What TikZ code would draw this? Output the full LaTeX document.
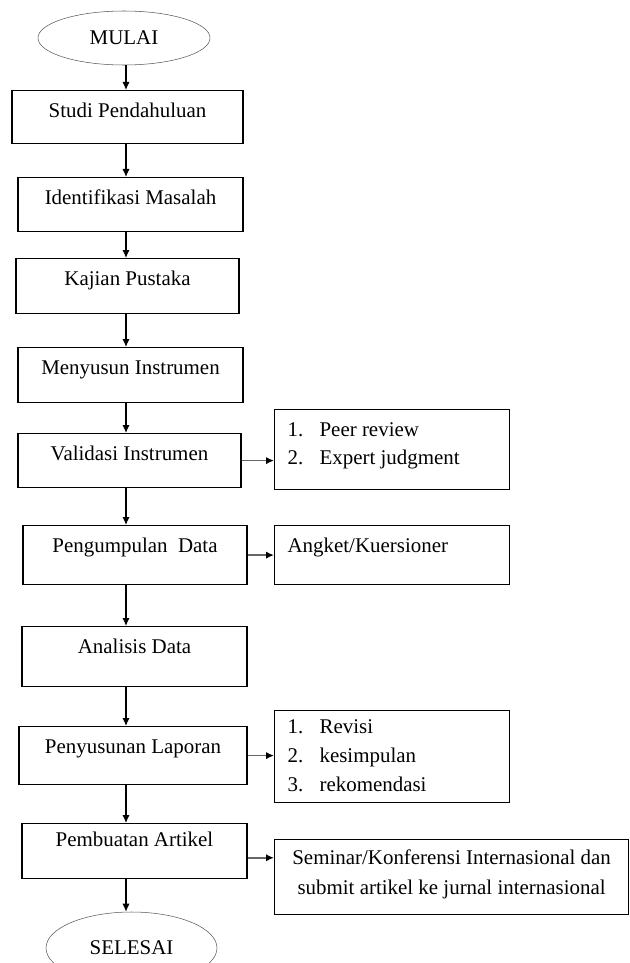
\documentclass[tikz,border=0pt]{standalone}
\usepackage{fontspec}
\setmainfont{Liberation Serif}
\usetikzlibrary{shapes, arrows.meta}

\tikzset{
  proc/.style={draw, line width=0.9pt, inner sep=0pt, text height=20pt, anchor=north},
  note/.style={draw, line width=0.9pt, inner xsep=9.75pt, inner ysep=0pt, anchor=north west},
  term/.style={draw=black!65, ellipse, thin, inner sep=0pt},
}

\begin{document}
\begin{tikzpicture}[x=0.75pt, y=-0.75pt, font=\fontsize{15.7}{21}\selectfont]
\useasboundingbox (0,0) rectangle (629,963);
\coordinate (axis) at (126,0);
\node[term, minimum width=129pt, minimum height=40.5pt] (mulai) at (124,38) {MULAI};
\node[proc, minimum width=173.25pt, text depth=19.75pt] (studi) at (127.5,90) {Studi Pendahuluan};
\node[proc, minimum width=168.75pt, text depth=20.5pt] (ident) at (130.5,177) {Identifikasi Masalah};
\node[proc, minimum width=167.25pt, text depth=21.25pt] (kajian) at (127.5,258) {Kajian Pustaka};
\node[proc, minimum width=168.75pt, text depth=21.25pt] (susun) at (130.5,347) {Menyusun Instrumen};
\node[proc, minimum width=167.25pt, text depth=20.5pt] (valid) at (129.5,433) {Validasi Instrumen};
\node[proc, minimum width=168pt, text depth=24.25pt] (kumpul) at (135,525) {Pengumpulan~~Data};
\node[proc, minimum width=168.75pt, text depth=25pt] (analisis) at (134.5,626) {Analisis Data};
\node[proc, minimum width=171pt, text depth=23.5pt] (lapor) at (133,726) {Penyusunan Laporan};
\node[proc, minimum width=168.75pt, text height=17.25pt, text depth=24pt] (artikel) at (134.5,823) {Pembuatan Artikel};
\node[term, minimum width=128.25pt, minimum height=54pt] (selesai) at (131.5,948) {SELESAI};
% side boxes
\node[note, text height=20.25pt, text depth=39.75pt] (peer) at (274,409)
  {\begin{tabular}[t]{@{}p{24pt}@{}p{132.75pt}@{}}1. & Peer review\\ 2. & Expert judgment\end{tabular}};
\node[note, text height=20.25pt, text depth=24pt] (angket) at (274,525)
  {\begin{tabular}[t]{@{}p{156.75pt}@{}}Angket/Kuersioner\end{tabular}};
\node[note, text height=17.25pt, text depth=51.75pt] (revisi) at (274,710)
  {\begin{tabular}[t]{@{}p{24pt}@{}p{132.75pt}@{}}1. & Revisi\\[0.75pt] 2. & kesimpulan\\[0.75pt] 3. & rekomendasi\end{tabular}};
\node[note, minimum width=265.5pt, text height=18.75pt, text depth=37.5pt] (seminar) at (274,839)
  {\begin{tabular}[t]{@{}c@{}}Seminar/Konferensi Internasional dan\\[1.5pt] submit artikel ke jurnal internasional\end{tabular}};
% Arrows
\draw [->, line width=0.9pt, >={Latex[length=6pt,width=5.5pt]}] (mulai.south -| axis)--(studi.north -| axis);
\draw [->, line width=0.9pt, >={Latex[length=6pt,width=5.5pt]}] (studi.south -| axis)--(ident.north -| axis);
\draw [->, line width=0.9pt, >={Latex[length=6pt,width=5.5pt]}] (ident.south -| axis)--(kajian.north -| axis);
\draw [->, line width=0.9pt, >={Latex[length=6pt,width=5.5pt]}] (kajian.south -| axis)--(susun.north -| axis);
\draw [->, line width=0.9pt, >={Latex[length=6pt,width=5.5pt]}] (susun.south -| axis)--(valid.north -| axis);
\draw [->, line width=0.9pt, >={Latex[length=6pt,width=5.5pt]}] (valid.south -| axis)--(kumpul.north -| axis);
\draw [->, line width=0.9pt, >={Latex[length=6pt,width=5.5pt]}] (kumpul.south -| axis)--(analisis.north -| axis);
\draw [->, line width=0.9pt, >={Latex[length=6pt,width=5.5pt]}] (analisis.south -| axis)--(lapor.north -| axis);
\draw [->, line width=0.9pt, >={Latex[length=6pt,width=5.5pt]}] (lapor.south -| axis)--(artikel.north -| axis);
\draw [->, line width=0.9pt, >={Latex[length=6pt,width=5.5pt]}] (artikel.south -| axis)--(selesai.north -| axis);
% side arrows
\path ([yshift=-5pt]artikel.east) coordinate (artout);
\draw [->, line width=1.3pt, black!60, >={Latex[black, length=6pt, width=5.5pt]}] (valid.east)--(peer.west |- valid.east);
\draw [->, line width=1.3pt, black!60, >={Latex[black, length=6pt, width=5.5pt]}] (kumpul.east)--(angket.west |- kumpul.east);
\draw [->, line width=1.3pt, black!60, >={Latex[black, length=6pt, width=5.5pt]}] (lapor.east)--(revisi.west |- lapor.east);
\draw [->, line width=1.3pt, black!60, >={Latex[black, length=6pt, width=5.5pt]}] (artout)--(artout -| seminar.west);
\end{tikzpicture}
\end{document}
